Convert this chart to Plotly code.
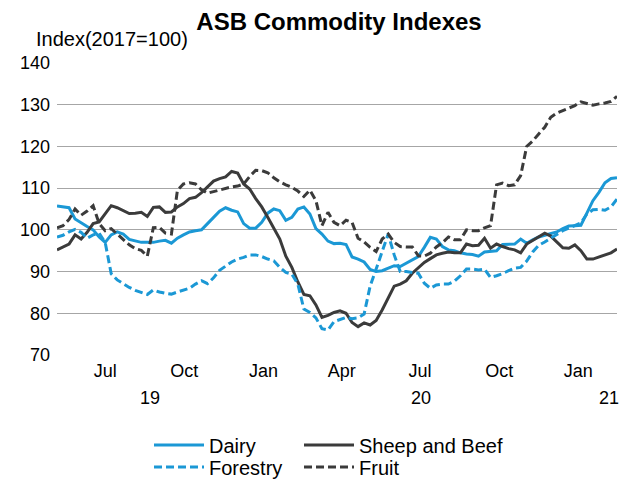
import pandas as pd
import plotly.graph_objects as go

# ---- data (weekly index values) ----
start_date = "2019-05-06"
n_weeks = 94
dates = pd.date_range(start_date, periods=n_weeks, freq="7D")

dairy = [
    105.7, 105.5, 105.3, 102.6, 101.6, 100.8, 100.0, 98.3, 97.0, 98.8,
    99.5, 99.0, 97.7, 97.3, 97.0, 97.0, 97.0, 97.3, 97.5, 96.8,
    98.0, 98.8, 99.5, 99.8, 100.0, 101.5, 103.0, 104.5, 105.3, 104.7,
    104.3, 101.5, 100.4, 100.4, 101.8, 104.0, 105.0, 104.6, 102.3, 103.0,
    105.0, 105.5, 103.8, 100.3, 99.0, 97.3, 96.7, 96.8, 96.5, 93.5,
    93.0, 92.3, 90.5, 90.0, 90.2, 90.8, 91.4, 91.2, 92.0, 92.7,
    93.6, 95.8, 98.2, 97.8, 96.0, 95.2, 95.0, 94.5, 94.2, 94.1,
    93.7, 94.7, 94.9, 95.0, 96.5, 96.6, 96.6, 97.8, 96.8, 97.6,
    98.3, 98.7, 99.1, 99.5, 100.3, 100.9, 101.0, 101.1, 104.0, 107.0,
    109.0, 111.3, 112.3, 112.5,
]

sheep_beef = [
    95.2, 95.9, 96.6, 98.8, 97.8, 99.4, 101.5, 101.9, 103.8, 105.8,
    105.3, 104.6, 103.9, 104.0, 104.2, 103.2, 105.4, 105.5, 104.2, 104.3,
    105.5, 106.3, 107.5, 107.8, 108.9, 110.3, 111.7, 112.3, 112.7, 114.0,
    113.6, 111.0, 109.8, 107.5, 105.5, 103.0, 100.5, 97.8, 93.7, 91.0,
    87.5, 84.5, 84.2, 82.0, 79.0, 79.5, 80.2, 80.6, 80.0, 77.8,
    76.8, 77.7, 77.2, 78.3, 80.8, 83.5, 86.5, 87.0, 87.8, 89.6,
    91.0, 92.2, 93.1, 94.0, 94.4, 94.7, 94.5, 94.5, 96.6, 96.2,
    96.3, 98.0, 95.6, 96.6, 96.0, 95.5, 95.2, 94.5, 96.6, 97.5,
    98.3, 99.2, 98.5, 97.0, 95.7, 95.6, 96.4, 95.0, 93.0, 93.0,
    93.5, 94.0, 94.5, 95.4,
]

forestry = [
    98.3, 98.7, 99.5, 100.1, 99.4, 98.0, 98.8, 99.2, 97.0, 89.5,
    88.0, 87.0, 86.2, 85.5, 85.0, 84.5, 85.6, 85.1, 84.8, 84.6,
    85.1, 85.6, 86.0, 87.0, 87.8, 87.1, 88.5, 90.3, 91.4, 92.3,
    93.0, 93.4, 94.0, 94.0, 93.6, 93.0, 92.6, 91.0, 89.8, 89.4,
    87.0, 81.0, 80.2, 78.9, 76.3, 76.0, 78.0, 78.5, 79.0, 78.7,
    78.9, 79.8, 86.5, 90.6, 94.6, 99.0, 94.0, 90.0, 90.0, 89.8,
    89.6, 87.2, 86.0, 86.8, 87.0, 87.0, 87.7, 89.0, 90.6, 90.6,
    90.4, 90.6, 88.6, 89.0, 89.5, 90.2, 90.8, 91.0, 92.5, 94.7,
    96.3, 97.1, 98.0, 98.9, 99.8, 100.4, 101.0, 101.7, 103.8, 104.8,
    104.9, 104.7, 105.5, 107.4,
]

fruit = [
    100.5, 101.0, 102.5, 105.0, 103.5, 104.5, 105.8, 101.5, 99.8, 100.3,
    99.0, 97.8, 96.4, 95.5, 95.1, 93.7, 100.5, 100.6, 99.2, 99.0,
    109.5, 111.0, 111.3, 111.0, 109.6, 108.8, 109.2, 109.6, 110.0, 110.3,
    110.5, 111.0, 112.8, 114.3, 114.2, 113.7, 112.5, 111.5, 110.8, 110.2,
    109.3, 108.0, 109.5, 107.0, 101.0, 104.2, 101.8, 101.0, 102.3, 101.8,
    98.0, 97.1, 95.8, 94.8, 97.8, 99.0, 97.0, 96.0, 95.9, 95.9,
    93.8, 93.7, 94.4, 95.9, 96.9, 98.3, 97.6, 97.6, 100.0, 99.8,
    99.8, 100.5, 101.0, 110.8, 111.2, 110.6, 110.8, 113.0, 120.0, 121.3,
    123.0, 124.6, 127.0, 128.0, 128.6, 129.2, 129.8, 130.7, 130.3, 129.9,
    130.2, 130.4, 130.8, 132.0,
]

tick_dates = ["2019-07-01", "2019-10-01", "2020-01-01", "2020-04-01",
              "2020-07-01", "2020-10-01", "2021-01-01"]
tick_labels = ["Jul", "Oct", "Jan", "Apr", "Jul", "Oct", "Jan"]
year_labels = ["19", "20", "21"]
y_ticks = [70, 80, 90, 100, 110, 120, 130, 140]

# ---- styling ----
FONT = "Arial, Liberation Sans, sans-serif"
BLUE = "#1b98d5"
DARK = "#3b3b3b"
DASH = "8px,4px"

W, H = 633, 480
ML, MR, MT, MB = 57, 16, 63, 125
PW = W - ML - MR
PH = H - MT - MB


def px_x(px):
    return (px - ML) / PW


def px_y(py):
    return (H - MB - py) / PH


series = [
    ("Dairy", dairy, BLUE, None, "legend", 149, 445),
    ("Sheep and Beef", sheep_beef, DARK, None, "legend2", 299, 445),
    ("Forestry", forestry, BLUE, DASH, "legend3", 149, 467),
    ("Fruit", fruit, DARK, DASH, "legend4", 299, 467),
]

fig = go.Figure()
legends = {}
for name, vals, color, dash, leg, lx, ly in series:
    fig.add_trace(go.Scatter(x=dates, y=vals, name=name, mode="lines",
                             line=dict(color=color, width=3, dash=dash), legend=leg))
    legends[leg] = dict(orientation="h", xanchor="left", yanchor="middle",
                        x=px_x(lx), y=px_y(ly), itemwidth=50,
                        font=dict(family=FONT, size=20, color="#000"),
                        bgcolor="rgba(0,0,0,0)")

year_x = [150, 421, 609]
annotations = [
    dict(text=t, x=px_x(xp), y=px_y(398), xref="paper", yref="paper",
         showarrow=False, xanchor="center", yanchor="middle",
         font=dict(family=FONT, size=18, color="#000"))
    for t, xp in zip(year_labels, year_x)
]
annotations.append(dict(text="Index(2017=100)", x=px_x(34), y=px_y(39),
                        xref="paper", yref="paper", showarrow=False,
                        xanchor="left", yanchor="middle",
                        font=dict(family=FONT, size=20, color="#000")))

fig.update_layout(
    width=W, height=H,
    margin=dict(l=ML, r=MR, t=MT, b=MB, autoexpand=False),
    paper_bgcolor="white", plot_bgcolor="white",
    title=dict(text="<b>ASB Commodity Indexes</b>", x=339 / W, xanchor="center",
               y=1 - 22 / H, yanchor="middle", xref="container", yref="container",
               font=dict(family=FONT, size=24, color="#000")),
    font=dict(family=FONT, size=18, color="#000"),
    xaxis=dict(range=[dates[0], "2021-02-15"], tickvals=tick_dates, ticktext=tick_labels,
               showgrid=False, showline=False, zeroline=False, ticks="",
               tickfont=dict(size=18), ticklabelstandoff=3),
    yaxis=dict(range=[70, 140], tickvals=y_ticks, showgrid=True, gridcolor="#a6a6a6",
               gridwidth=1, showline=False, zeroline=False, ticks="",
               tickfont=dict(size=18), ticklabelstandoff=6),
    annotations=annotations,
    showlegend=True,
    hovermode=False,
    **legends,
)

fig.write_html("out.html",
               config={"displayModeBar": False},
               post_script="document.body.style.margin='0';document.body.style.overflow='hidden';")
